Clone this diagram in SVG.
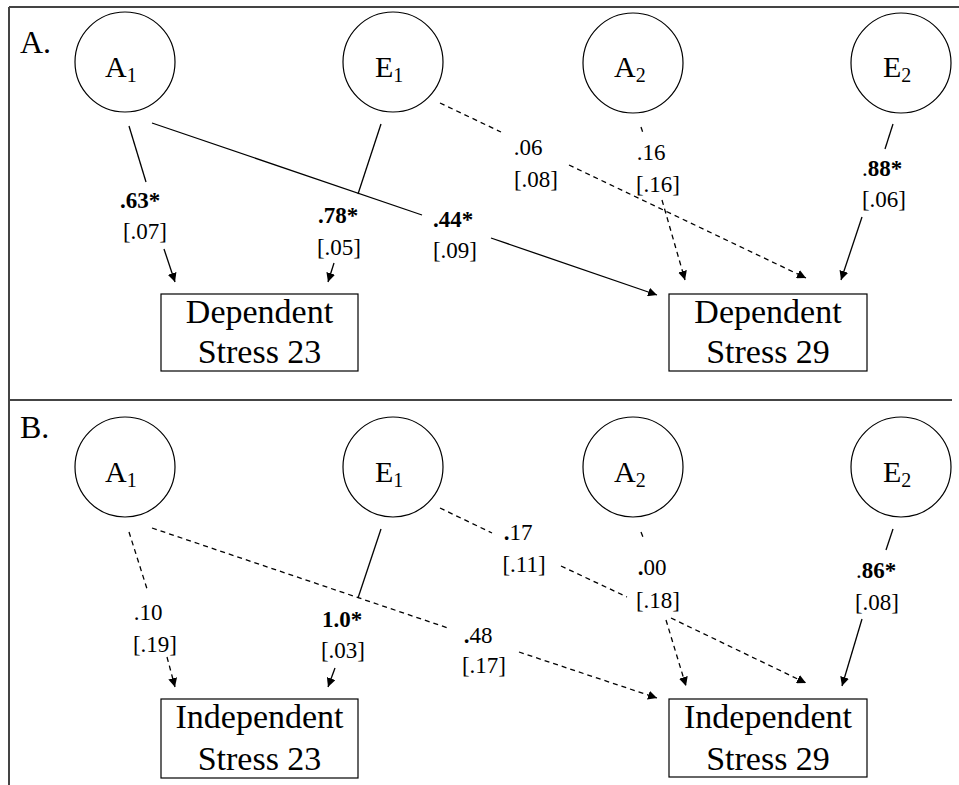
<svg xmlns="http://www.w3.org/2000/svg" width="959" height="785" viewBox="0 0 959 785">
<defs>
<marker id="ah" viewBox="0 0 10 10" refX="10" refY="5" markerWidth="9" markerHeight="9" markerUnits="userSpaceOnUse" orient="auto">
<path d="M0,0 L10,5 L0,10 z" fill="#000"/>
</marker>
<style>
.frame{stroke:#444;stroke-width:2;fill:none}
.node{fill:#fff;stroke:#000;stroke-width:1.2}
.lat{font-family:"Liberation Serif",serif;font-size:30px;fill:#000}
.sub{font-size:20px}
.box{font-family:"Liberation Serif",serif;font-size:34px;fill:#000;text-anchor:middle}
.lbl{font-family:"Liberation Serif",serif;font-size:23px;fill:#000;text-anchor:middle}
.b{font-weight:bold}
.panel{font-family:"Liberation Serif",serif;font-size:32px;fill:#000}
.s{stroke:#000;stroke-width:1.3;fill:none}
.d{stroke:#000;stroke-width:1.3;fill:none;stroke-dasharray:5 4}
</style>
</defs>
<rect width="959" height="785" fill="#fff"/>
<g id="frame">
<line class="frame" x1="9" y1="7" x2="959" y2="7"/>
<line class="frame" x1="9" y1="7" x2="9" y2="785"/>
<line class="frame" x1="9" y1="400" x2="952" y2="400"/>
</g>
<text class="panel" x="20" y="53">A.</text>
<text class="panel" x="20" y="438">B.</text>

<g id="connectors">
<!-- Panel A -->
<line class="s" x1="129" y1="126" x2="146" y2="182"/>
<line class="s" x1="164" y1="249" x2="175" y2="282" marker-end="url(#ah)"/>
<line class="s" x1="381" y1="124" x2="358" y2="194"/>
<line class="s" x1="334" y1="263" x2="328" y2="282" marker-end="url(#ah)"/>
<line class="s" x1="152" y1="123" x2="422" y2="215"/>
<line class="s" x1="491" y1="238" x2="657" y2="295" marker-end="url(#ah)"/>
<line class="d" x1="440" y1="103" x2="501" y2="132"/>
<line class="d" x1="569" y1="165" x2="806" y2="278" marker-end="url(#ah)"/>
<line class="d" x1="641" y1="127" x2="643" y2="133"/>
<line class="d" x1="662" y1="200" x2="685" y2="280" marker-end="url(#ah)"/>
<line class="s" x1="893" y1="124" x2="885" y2="149"/>
<line class="s" x1="862" y1="217" x2="841" y2="280" marker-end="url(#ah)"/>
<!-- Panel B -->
<line class="d" x1="129" y1="532" x2="148" y2="592"/>
<line class="d" x1="167" y1="657" x2="175" y2="687" marker-end="url(#ah)"/>
<line class="s" x1="381" y1="529" x2="358" y2="598"/>
<line class="s" x1="335" y1="668" x2="328" y2="687" marker-end="url(#ah)"/>
<line class="d" x1="152" y1="528" x2="448" y2="628"/>
<line class="d" x1="519" y1="652" x2="657" y2="698" marker-end="url(#ah)"/>
<line class="d" x1="440" y1="508" x2="492" y2="533"/>
<line class="d" x1="561" y1="566" x2="627" y2="597"/>
<line class="d" x1="671" y1="618" x2="806" y2="683" marker-end="url(#ah)"/>
<line class="d" x1="641" y1="532" x2="643" y2="537"/>
<line class="d" x1="666" y1="620" x2="686" y2="686" marker-end="url(#ah)"/>
<line class="s" x1="893" y1="529" x2="886" y2="550"/>
<line class="s" x1="862" y1="619" x2="842" y2="686" marker-end="url(#ah)"/>
</g>

<g id="labels">
<text class="lbl b" x="140" y="208">.63*</text>
<text class="lbl" x="145" y="239">[.07]</text>
<text class="lbl b" x="338" y="223">.78*</text>
<text class="lbl" x="339" y="255">[.05]</text>
<text class="lbl b" x="453" y="227">.44*</text>
<text class="lbl" x="455" y="258">[.09]</text>
<text class="lbl" x="528" y="155">.06</text>
<text class="lbl" x="536" y="187">[.08]</text>
<text class="lbl" x="651" y="160">.16</text>
<text class="lbl" x="658" y="192">[.16]</text>
<text class="lbl" x="882" y="176">.<tspan class="b">88*</tspan></text>
<text class="lbl" x="884" y="207">[.06]</text>

<text class="lbl" x="148" y="620">.10</text>
<text class="lbl" x="155" y="652">[.19]</text>
<text class="lbl b" x="342" y="627">1.0*</text>
<text class="lbl" x="343" y="658">[.03]</text>
<text class="lbl" x="478" y="643"><tspan class="b">.</tspan>48</text>
<text class="lbl" x="484" y="673">[.17]</text>
<text class="lbl" x="518" y="540"><tspan class="b">.</tspan>17</text>
<text class="lbl" x="524" y="572">[.11]</text>
<text class="lbl" x="652" y="575"><tspan class="b">.</tspan>00</text>
<text class="lbl" x="658" y="608">[.18]</text>
<text class="lbl" x="876" y="578">.<tspan class="b">86*</tspan></text>
<text class="lbl" x="877" y="610">[.08]</text>
</g>

<g id="nodeA_A1"><circle class="node" cx="125" cy="62" r="50"/><text class="lat" x="105" y="77">A<tspan class="sub" dy="5">1</tspan></text></g>
<g id="nodeA_E1"><circle class="node" cx="393" cy="62" r="50"/><text class="lat" x="375" y="77">E<tspan class="sub" dy="5">1</tspan></text></g>
<g id="nodeA_A2"><circle class="node" cx="633" cy="63" r="50"/><text class="lat" x="614" y="77">A<tspan class="sub" dy="5">2</tspan></text></g>
<g id="nodeA_E2"><circle class="node" cx="901" cy="63" r="50"/><text class="lat" x="883" y="77">E<tspan class="sub" dy="5">2</tspan></text></g>
<g id="nodeA_DS23"><rect class="node" x="161" y="294" width="197" height="77"/><text class="box" x="259.5" y="323">Dependent</text><text class="box" x="259.5" y="363">Stress 23</text></g>
<g id="nodeA_DS29"><rect class="node" x="669" y="294" width="198" height="77"/><text class="box" x="768" y="323">Dependent</text><text class="box" x="768" y="363">Stress 29</text></g>

<g id="nodeB_A1"><circle class="node" cx="125" cy="467" r="50"/><text class="lat" x="105" y="482">A<tspan class="sub" dy="5">1</tspan></text></g>
<g id="nodeB_E1"><circle class="node" cx="393" cy="467" r="50"/><text class="lat" x="375" y="482">E<tspan class="sub" dy="5">1</tspan></text></g>
<g id="nodeB_A2"><circle class="node" cx="633" cy="467" r="50"/><text class="lat" x="614" y="482">A<tspan class="sub" dy="5">2</tspan></text></g>
<g id="nodeB_E2"><circle class="node" cx="901" cy="467" r="50"/><text class="lat" x="883" y="482">E<tspan class="sub" dy="5">2</tspan></text></g>
<g id="nodeB_IS23"><rect class="node" x="161" y="699" width="197" height="79"/><text class="box" x="259.5" y="728">Independent</text><text class="box" x="259.5" y="770">Stress 23</text></g>
<g id="nodeB_IS29"><rect class="node" x="669" y="699" width="198" height="78"/><text class="box" x="768" y="728">Independent</text><text class="box" x="768" y="770">Stress 29</text></g>
</svg>
